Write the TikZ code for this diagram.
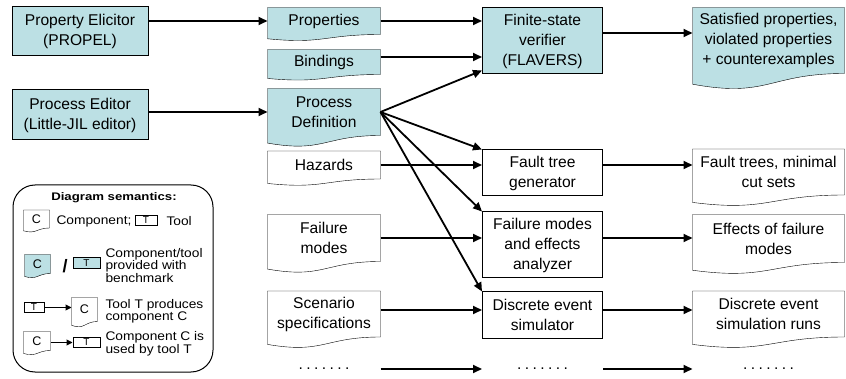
\documentclass[tikz,border=0pt]{standalone}
\usepackage{fontspec}
\setmainfont{Liberation Sans}
\newfontfamily\legendfont[FakeStretch=1.1]{Liberation Sans}
\newfontfamily\titlefont[FakeStretch=1.2]{Liberation Sans}
\usetikzlibrary{arrows.meta,calc,backgrounds}

\definecolor{benchblue}{RGB}{188,224,228}

\newcommand{\mainsize}{\fontsize{15.6}{20}\selectfont}
\newcommand{\moredots}{.\kern3.4pt.\kern3.4pt.\kern3.4pt.\kern3.4pt.\kern3.4pt.\kern3.4pt.}
% wavy bottom of a component: node name, height of the node
\newcommand{\docoutline}[2]{(#1.north west) -- (#1.north east) -- (#1.south east) .. controls (#1.south) and ($(#1.south)+(0,0.381*#2)$) .. ($(#1.south west)+(0,0.1646*#2)$) -- cycle}

\tikzset{every picture/.style={line width=1pt}}
\tikzset{
  tool/.style={draw, align=center, inner sep=1pt, font=\mainsize},
  docu/.style={align=center, inner sep=1pt, font=\mainsize},
  given/.style={fill=benchblue},
  flow/.style={line width=1.8pt, -{Triangle[length=9pt,width=8pt]}},
  keyflow/.style={line width=1pt, -{Triangle[length=6pt,width=6pt]}},
  keytext/.style={align=left, inner sep=0pt, font={\legendfont\fontsize{12.5}{10.5}\selectfont}},
  keybox/.style={draw, inner sep=0pt, font={\fontsize{10}{10}\selectfont}},
  keydoc/.style={inner sep=0pt, font={\fontsize{12.5}{12.5}\selectfont}},
  dotrow/.style={inner sep=0pt, font=\mainsize}
}

\begin{document}
\begin{tikzpicture}[x=1pt,y=1pt,yscale=-1]
\useasboundingbox (0,0) rectangle (846,379);

% Tools
\node[tool,given,minimum width=136,minimum height=49] (pe) at (80,31.5) {Property Elicitor\\(PROPEL)};
\node[tool,given,minimum width=136,minimum height=50] (ped) at (80,115) {Process Editor\\(Little-JIL editor)};
\node[tool,given,minimum width=120,minimum height=66] (fsv) at (542.5,41) {Finite-state\\verifier\\(FLAVERS)};
\node[tool,minimum width=120,minimum height=46] (ftg) at (542.5,173) {Fault tree\\generator};
\node[tool,minimum width=120,minimum height=66] (fmea) at (542.5,245) {Failure modes\\and effects\\analyzer};
\node[tool,minimum width=120,minimum height=46] (des) at (542.5,315) {Discrete event\\simulator};

% Components
\node[docu,minimum width=112,minimum height=26] (prop) at (324,21) {Properties};
\node[docu,minimum width=112,minimum height=24] (bind) at (324,62) {Bindings};
\node[docu,minimum width=112,minimum height=46] (pdef) at (324,112) {Process\\Definition};
\node[docu,minimum width=112,minimum height=27] (haz) at (324,165) {Hazards};
\node[docu,minimum width=112,minimum height=46] (fm) at (324,238) {Failure\\modes};
\node[docu,minimum width=112,minimum height=45] (scen) at (324,314) {Scenario\\specifications};
\node[docu,minimum width=151,minimum height=65] (sat) at (768.5,40.5) {Satisfied properties,\\violated properties\\+ counterexamples};
\node[docu,minimum width=151,minimum height=45] (ftrees) at (768.5,172) {Fault trees, minimal\\cut sets};
\node[docu,minimum width=151,minimum height=47] (eff) at (768.5,238.5) {Effects of failure\\modes};
\node[docu,minimum width=151,minimum height=45] (runs) at (768.5,314) {Discrete event\\simulation runs};

% more to come
\node[dotrow] (dl) at (324,369) {\moredots};
\node[dotrow] (dm) at (542.5,369) {\moredots};
\node[dotrow] (dr) at (768.5,369) {\moredots};

\begin{scope}[on background layer]
  \foreach \n/\h in {prop/26,bind/24,pdef/46,sat/65}
    \draw[fill=benchblue] \docoutline{\n}{\h};
  \foreach \n/\h in {haz/27,fm/46,scen/45,ftrees/45,eff/47,runs/45}
    \draw[fill=white] \docoutline{\n}{\h};
\end{scope}

% Flows
\draw[flow] (pe.east |- prop.west) -- (prop.west);
\draw[flow] (ped.east |- pdef.west) -- (pdef.west);
\draw[flow] (prop.east) -- (prop.east -| fsv.west);
\draw[flow] ($(bind.east)+(0,-5)$) -- ($(bind.east -| fsv.west)+(0,-5)$);
\draw[flow] (pdef.east) -- ($(fsv.south west)+(0,-4)$);
\draw[flow] (pdef.east) -- (ftg.north west);
\draw[flow] (pdef.east) -- (fmea.north west);
\draw[flow] (pdef.east) -- (des.north west);
\draw[flow] ($(fsv.east)+(0,-8)$) -- ($(fsv.east -| sat.west)+(0,-8)$);
\draw[flow] (haz.east) -- (haz.east -| ftg.west);
\draw[flow] (ftg.east |- haz.east) -- (ftrees.west |- haz.east);
\draw[flow] (fm.east) -- (fm.east -| fmea.west);
\draw[flow] (fmea.east |- fm.east) -- (eff.west |- fm.east);
\draw[flow] ($(scen.east)+(0,-4)$) -- ($(scen.east -| des.west)+(0,-4)$);
\draw[flow] ($(des.east |- scen.east)+(0,-4)$) -- ($(runs.west |- scen.east)+(0,-4)$);
\draw[flow] (scen.east |- dl) -- (des.west |- dl);
\draw[flow] (des.east |- dm) -- (runs.west |- dm);

% Legend
\node[draw,rounded corners=22,minimum width=200,minimum height=187] (key) at (113,278.5) {};
\node[font=\titlefont\bfseries\fontsize{11}{12}\selectfont,inner sep=0pt] (keytitle) at (114,198) {Diagram semantics:};

\node[keydoc,minimum width=25,minimum height=17] (kc1) at (36.5,219) {C};
\node[keytext,anchor=west] (kcomp) at (56,221) {Component;};
\node[keybox,minimum width=22,minimum height=10] (kt1) at (146,220.5) {T};
\node[keytext,anchor=west] (ktool) at (166,221) {Tool};

\node[keydoc,minimum width=25,minimum height=18] (kc2) at (37.5,264) {C};
\node[font=\bfseries\fontsize{18}{18}\selectfont,inner sep=0pt] (kslash) at (65,266) {/};
\node[keybox,given,minimum width=27,minimum height=11] (kt2) at (86.5,263.5) {T};
\node[keytext,anchor=west] (kbench) at (105,265.5) {Component/tool\\provided with\\benchmark};

\node[keybox,minimum width=20,minimum height=10] (kt3) at (34,307.5) {T};
\node[keydoc,minimum width=25,minimum height=23] (kc3) at (84.5,309.5) {C};
\draw[keyflow] (kt3.east) -- (kt3.east -| kc3.west);
\node[keytext,anchor=west] (kprod) at (105,311) {Tool T produces\\component C};

\node[keydoc,minimum width=26,minimum height=18] (kc4) at (37,341) {C};
\node[keybox,minimum width=27,minimum height=10] (kt4) at (86.5,342.5) {T};
\draw[keyflow] (kc4.east |- kt4.west) -- (kt4.west);
\node[keytext,anchor=west] (kused) at (105,344) {Component C is\\used by tool T};

\begin{scope}[on background layer]
  \foreach \n/\h in {kc1/17,kc3/23,kc4/18}
    \draw[fill=white] \docoutline{\n}{\h};
  \draw[fill=benchblue] \docoutline{kc2}{18};
\end{scope}

\end{tikzpicture}
\end{document}
